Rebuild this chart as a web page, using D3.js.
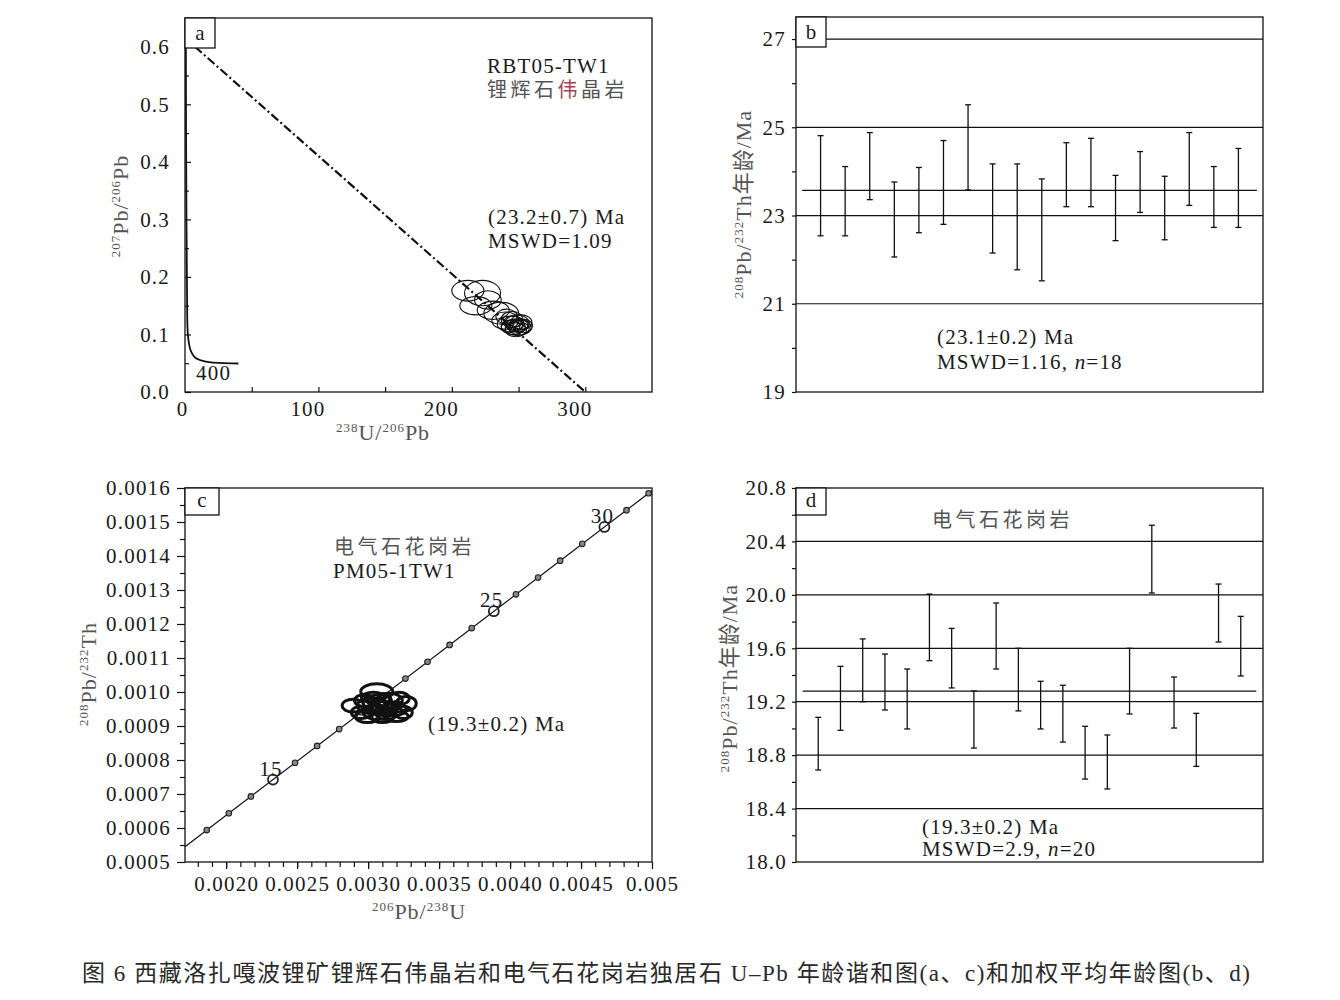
<!DOCTYPE html>
<html>
<head>
<meta charset="utf-8">
<script src="https://cdn.jsdelivr.net/npm/d3@7"></script>
<style>
body { margin: 0; background: #fff; }
text { font-family: "Liberation Serif", "Times New Roman", "Noto Sans CJK SC", serif; fill: #1a1a1a; }
.tick text { font-size: 21px; letter-spacing: 1.2px; }
.note { font-size: 21px; letter-spacing: 1.2px; }
.cjk { font-size: 20px; letter-spacing: 3.5px; fill: #555; }
.title { fill: #555; letter-spacing: 1px; }
</style>
</head>
<body>
<svg></svg>
<script>
// ---------- data, panel a (Tera-Wasserburg) ----------
var concA_x = [0.6, 0.8, 1.1, 1.5, 1.9, 2.6, 3.8, 5.5, 8, 12, 18, 26, 40];
var concA_y = [0.65, 0.45, 0.3, 0.18, 0.11, 0.09, 0.075, 0.066, 0.059, 0.055, 0.052, 0.0505, 0.0495];
var discA_x = [7.5, 300];
var discA_y = [0.6, 0];
var ellA_x  = [212, 223, 218, 231, 237, 240, 244, 246, 249, 251, 248, 252, 245, 250, 253, 247, 241, 227, 249, 246, 252, 244];
var ellA_y  = [0.176, 0.172, 0.150, 0.142, 0.137, 0.124, 0.118, 0.113, 0.119, 0.112, 0.108, 0.121, 0.126, 0.116, 0.115, 0.117, 0.131, 0.160, 0.110, 0.122, 0.118, 0.114];
var ellA_rx = [12, 13.5, 12, 12, 13, 10, 10, 9, 9, 8.5, 8, 8, 8, 7, 7.5, 6, 8, 10, 9, 7, 6, 7];
var ellA_ry = [0.018, 0.022, 0.016, 0.016, 0.019, 0.015, 0.014, 0.013, 0.015, 0.013, 0.012, 0.013, 0.014, 0.011, 0.012, 0.010, 0.013, 0.016, 0.012, 0.010, 0.009, 0.010];
var xTicksA = [0, 100, 200, 300];
var yTicksA = [0, 0.1, 0.2, 0.3, 0.4, 0.5, 0.6];

// ---------- data, panel b (weighted mean, pegmatite) ----------
var ageB_hi = [24.81, 24.11, 24.88, 23.76, 24.09, 24.70, 25.51, 24.17, 24.17, 23.83, 24.65, 24.75, 23.91, 24.45, 23.89, 24.88, 24.11, 24.52];
var ageB_lo = [22.54, 22.54, 23.36, 22.06, 22.61, 22.80, 23.58, 22.15, 21.77, 21.52, 23.20, 23.20, 22.43, 23.07, 22.45, 23.23, 22.73, 22.73];
var meanB = 23.57;
var gridB = [21, 23, 25, 27];
var yTicksB = [19, 21, 23, 25, 27];

// ---------- data, panel c (208Pb/232Th vs 206Pb/238U) ----------
var concC_age = [12, 13, 14, 15, 16, 17, 18, 19, 20, 21, 22, 23, 24, 25, 26, 27, 28, 29, 30, 31, 32];
var concC_x = [0.0018632, 0.0020186, 0.0021741, 0.0023296, 0.0024851, 0.0026406, 0.0027962, 0.0029517, 0.0031073, 0.0032629, 0.0034186,
               0.0035743, 0.0037299, 0.0038856, 0.0040414, 0.0041972, 0.0043529, 0.0045087, 0.0046646, 0.0048205, 0.0049763];
var concC_y = [0.0005939, 0.0006434, 0.0006929, 0.0007424, 0.0007919, 0.0008414, 0.0008909, 0.0009405, 0.0009900, 0.0010395, 0.0010890,
               0.0011386, 0.0011881, 0.0012376, 0.0012872, 0.0013367, 0.0013863, 0.0014358, 0.0014854, 0.0015349, 0.0015845];
var concC_labelled = [15, 25, 30];
var lineC_x = [0.00171, 0.0050];
var lineC_y = [0.000545, 0.001592];
var ellC_x  = [0.003061, 0.002894, 0.003198, 0.003269, 0.002952, 0.003022, 0.003114, 0.003065, 0.003150, 0.002995, 0.003185, 0.003080, 0.002974, 0.003220, 0.003101, 0.003037, 0.003248, 0.003128,
               0.003050, 0.003100, 0.003150, 0.003000, 0.003200, 0.003080, 0.003130, 0.003040];
var ellC_y  = [0.001002, 0.000960, 0.000928, 0.000966, 0.000940, 0.000960, 0.000952, 0.000940, 0.000975, 0.000928, 0.000949, 0.000975, 0.000975, 0.000981, 0.000925, 0.000984, 0.000940, 0.000934,
               0.000955, 0.000962, 0.000955, 0.000948, 0.000962, 0.000945, 0.000942, 0.000968];
var ellC_rx = [0.000113, 0.000077, 0.000085, 0.000070, 0.000070, 0.000099, 0.000091, 0.000099, 0.000091, 0.000084, 0.000084, 0.000084, 0.000070, 0.000070, 0.000077, 0.000084, 0.000063, 0.000070,
               0.000045, 0.000040, 0.000040, 0.000035, 0.000035, 0.000030, 0.000030, 0.000030];
var ellC_ry = [0.000022, 0.000019, 0.000015, 0.000021, 0.000018, 0.000023, 0.000021, 0.000021, 0.000021, 0.000018, 0.000018, 0.000018, 0.000018, 0.000018, 0.000015, 0.000015, 0.000018, 0.000015,
               0.000012, 0.000011, 0.000011, 0.000010, 0.000010, 0.000009, 0.000009, 0.000009];
var xTicksC = [0.0020, 0.0025, 0.0030, 0.0035, 0.0040, 0.0045, 0.0050];
var xLabelsC = ["0.0020", "0.0025", "0.0030", "0.0035", "0.0040", "0.0045", "0.005"];
var yTicksC = [0.0005, 0.0006, 0.0007, 0.0008, 0.0009, 0.0010, 0.0011, 0.0012, 0.0013, 0.0014, 0.0015, 0.0016];

// ---------- data, panel d (weighted mean, granite) ----------
var ageD_hi = [19.083, 19.465, 19.670, 19.557, 19.445, 20.006, 19.749, 19.280, 19.939, 19.600, 19.353, 19.323, 19.016, 18.951, 19.600, 20.521, 19.385, 19.113, 20.081, 19.839];
var ageD_lo = [18.689, 18.986, 19.200, 19.138, 18.996, 19.507, 19.303, 18.853, 19.445, 19.131, 18.996, 18.898, 18.621, 18.547, 19.108, 20.014, 19.003, 18.716, 19.647, 19.393];
var meanD = 19.28;
var gridD = [18.4, 18.8, 19.2, 19.6, 20.0, 20.4];
var yTicksD = [18.0, 18.4, 18.8, 19.2, 19.6, 20.0, 20.4, 20.8];

var caption = "图 6  西藏洛扎嘎波锂矿锂辉石伟晶岩和电气石花岗岩独居石 U–Pb 年龄谐和图(a、c)和加权平均年龄图(b、d)";

// ---------- drawing ----------
var svg = d3.select("svg").attr("width", 1340).attr("height", 1000);
var PW = 467, PH = 374;

function panel(x0, y0) {
    return svg.append("g").attr("transform", "translate(" + x0 + "," + y0 + ")");
}

function frame(g, h) {
    g.append("rect").attr("width", PW).attr("height", h)
        .attr("fill", "none").attr("stroke", "#111").attr("stroke-width", 1.3);
}

function letterBox(g, letter, bw, bh) {
    g.append("rect").attr("width", bw).attr("height", bh)
        .attr("fill", "#fff").attr("stroke", "#111").attr("stroke-width", 1.3);
    g.append("text").attr("x", bw / 2).attr("y", bh - 8).attr("text-anchor", "middle")
        .style("font-size", "21px").text(letter);
}

// text with superscripts; parts = [[string, isSup], ...]
function supText(t, parts, big, small) {
    var shift = 0;
    parts.forEach(function (p) {
        var want = p[1] ? -8 : 0;
        t.append("tspan").attr("dy", want - shift)
            .style("font-size", (p[1] ? small : big) + "px").text(p[0]);
        shift = want;
    });
}

function styleAxis(sel) {
    sel.select(".domain").remove();
    sel.selectAll(".tick line").attr("stroke", "#111").attr("stroke-width", 1.2);
}

function errorBars(g, x, y, hi, lo) {
    var rows = hi.map(function (d, i) { return { i: i + 1, hi: d, lo: lo[i] }; });
    var bar = g.append("g").selectAll("g").data(rows).enter().append("g")
        .attr("stroke", "#111").attr("stroke-width", 1.3);
    bar.append("line").attr("x1", function (d) { return x(d.i); }).attr("x2", function (d) { return x(d.i); })
        .attr("y1", function (d) { return y(d.hi); }).attr("y2", function (d) { return y(d.lo); });
    bar.append("line").attr("x1", function (d) { return x(d.i) - 3; }).attr("x2", function (d) { return x(d.i) + 3; })
        .attr("y1", function (d) { return y(d.hi); }).attr("y2", function (d) { return y(d.hi); });
    bar.append("line").attr("x1", function (d) { return x(d.i) - 3; }).attr("x2", function (d) { return x(d.i) + 3; })
        .attr("y1", function (d) { return y(d.lo); }).attr("y2", function (d) { return y(d.lo); });
}

function ellipses(g, x, y, cx, cy, rx, ry, sw) {
    var rows = cx.map(function (d, i) { return { cx: d, cy: cy[i], rx: rx[i], ry: ry[i] }; });
    g.append("g").selectAll("ellipse").data(rows).enter().append("ellipse")
        .attr("cx", function (d) { return x(d.cx); })
        .attr("cy", function (d) { return y(d.cy); })
        .attr("rx", function (d) { return x(d.cx + d.rx) - x(d.cx); })
        .attr("ry", function (d) { return y(d.cy) - y(d.cy + d.ry); })
        .attr("fill", "none").attr("stroke", "#111").attr("stroke-width", sw);
}

// ===== panel a =====
var ga = panel(185, 18);
var xa = d3.scaleLinear().domain([0, 350]).range([0, PW]);
var ya = d3.scaleLinear().domain([0, 0.65]).range([PH, 0]);

ga.append("g").call(d3.axisLeft(ya).tickValues(d3.range(0.05, 0.65, 0.1)).tickSize(-4).tickFormat("")).call(styleAxis);
ga.append("g").call(d3.axisLeft(ya).tickValues(yTicksA).tickSize(-6).tickPadding(15).tickFormat(d3.format(".1f"))).call(styleAxis);
ga.append("g").attr("transform", "translate(0," + PH + ")")
    .call(d3.axisBottom(xa).tickValues(d3.range(50, 350, 50)).tickSize(-5).tickFormat("")).call(styleAxis);
ga.append("g").attr("transform", "translate(0," + PH + ")")
    .call(d3.axisBottom(xa).tickValues(xTicksA).tickSize(0).tickPadding(9)).call(styleAxis)
    .selectAll("text").attr("dx", function (d) { return d === 0 ? -3 : -11; });

ga.append("path")
    .datum(concA_x.map(function (d, i) { return [d, concA_y[i]]; }))
    .attr("d", d3.line().x(function (d) { return xa(d[0]); }).y(function (d) { return ya(d[1]); }).curve(d3.curveCatmullRom))
    .attr("fill", "none").attr("stroke", "#111").attr("stroke-width", 1.8);
ga.append("line")
    .attr("x1", xa(discA_x[0])).attr("y1", ya(discA_y[0]))
    .attr("x2", xa(discA_x[1])).attr("y2", ya(discA_y[1]))
    .attr("stroke", "#111").attr("stroke-width", 2.2).attr("stroke-dasharray", "9,3,2,3");
ellipses(ga, xa, ya, ellA_x, ellA_y, ellA_rx, ellA_ry, 1.1);
frame(ga, PH);
letterBox(ga, "a", 30, 30);
ga.append("text").attr("class", "note").attr("x", 11).attr("y", 362).text("400");
ga.append("text").attr("class", "note").attr("x", 302).attr("y", 55).text("RBT05-TW1");
ga.append("text").attr("class", "cjk").attr("x", 302).attr("y", 79)
    .call(function (t) {
        t.append("tspan").text("锂辉石");
        t.append("tspan").style("fill", "#9a4a4a").text("伟");
        t.append("tspan").text("晶岩");
    });
ga.append("text").attr("class", "note").attr("x", 303).attr("y", 206).text("(23.2±0.7) Ma");
ga.append("text").attr("class", "note").attr("x", 303).attr("y", 230).text("MSWD=1.09");

svg.append("text").attr("class", "title").attr("transform", "translate(128,206) rotate(-90)")
    .attr("text-anchor", "middle")
    .call(supText, [["207", true], ["Pb/", false], ["206", true], ["Pb", false]], 22, 13);
svg.append("text").attr("class", "title").attr("x", 383).attr("y", 440).attr("text-anchor", "middle")
    .call(supText, [["238", true], ["U/", false], ["206", true], ["Pb", false]], 22, 13);

// ===== panel b =====
var gb = panel(796, 17);
var PHb = 375;
var xb = d3.scaleLinear().domain([0, 19]).range([0, PW]);
var yb = d3.scaleLinear().domain([19, 27.5]).range([PHb, 0]);

gb.append("g").call(d3.axisLeft(yb).tickValues(d3.range(20, 27, 2)).tickSize(4).tickFormat("")).call(styleAxis);
gb.append("g").call(d3.axisLeft(yb).tickValues(yTicksB).tickSize(4).tickPadding(6)).call(styleAxis);
gb.append("g").selectAll("line").data(gridB).enter().append("line")
    .attr("x1", 0).attr("x2", PW).attr("y1", yb).attr("y2", yb)
    .attr("stroke", "#111").attr("stroke-width", 1.2);
gb.append("line").attr("x1", xb(0.25)).attr("x2", xb(18.75)).attr("y1", yb(meanB)).attr("y2", yb(meanB))
    .attr("stroke", "#111").attr("stroke-width", 1.3);
errorBars(gb, xb, yb, ageB_hi, ageB_lo);
frame(gb, PHb);
letterBox(gb, "b", 30, 30);
gb.append("text").attr("class", "note").attr("x", 141).attr("y", 327).text("(23.1±0.2) Ma");
gb.append("text").attr("class", "note").attr("x", 141).attr("y", 352)
    .call(function (t) {
        t.append("tspan").text("MSWD=1.16, ");
        t.append("tspan").style("font-style", "italic").text("n");
        t.append("tspan").text("=18");
    });
svg.append("text").attr("class", "title").attr("transform", "translate(751,204) rotate(-90)")
    .attr("text-anchor", "middle")
    .call(supText, [["208", true], ["Pb/", false], ["232", true], ["Th年龄/Ma", false]], 22, 13);

// ===== panel c =====
var gc = panel(185, 488);
var xc = d3.scaleLinear().domain([0.00171, 0.005]).range([0, PW]);
var yc = d3.scaleLinear().domain([0.0005, 0.0016]).range([PH, 0]);

gc.append("g").call(d3.axisLeft(yc).tickValues(d3.range(0.00055, 0.0016, 0.0001)).tickSize(5).tickFormat("")).call(styleAxis);
gc.append("g").call(d3.axisLeft(yc).tickValues(yTicksC).tickSize(8).tickPadding(6).tickFormat(d3.format(".4f"))).call(styleAxis);
gc.append("g").attr("transform", "translate(0," + PH + ")")
    .call(d3.axisBottom(xc).tickValues(d3.range(0.0018, 0.00495, 0.0001)).tickSize(5).tickFormat("")).call(styleAxis);
gc.append("g").attr("transform", "translate(0," + PH + ")")
    .call(d3.axisBottom(xc).tickValues(xTicksC).tickSize(7).tickPadding(7)
        .tickFormat(function (d, i) { return xLabelsC[i]; })).call(styleAxis);

gc.append("line")
    .attr("x1", xc(lineC_x[0])).attr("y1", yc(lineC_y[0]))
    .attr("x2", xc(lineC_x[1])).attr("y2", yc(lineC_y[1]))
    .attr("stroke", "#111").attr("stroke-width", 1.2);
var marks = concC_age.map(function (a, i) { return { age: a, x: concC_x[i], y: concC_y[i], big: concC_labelled.indexOf(a) >= 0 }; });
gc.append("g").selectAll("circle").data(marks).enter().append("circle")
    .attr("cx", function (d) { return xc(d.x); })
    .attr("cy", function (d) { return yc(d.y); })
    .attr("r", function (d) { return d.big ? 5 : 2.8; })
    .attr("fill", function (d) { return d.big ? "none" : "#888"; })
    .attr("stroke", "#222").attr("stroke-width", function (d) { return d.big ? 1.8 : 1.1; });
ellipses(gc, xc, yc, ellC_x, ellC_y, ellC_rx, ellC_ry, 3);
gc.append("g").selectAll("text").data(marks.filter(function (d) { return d.big; })).enter().append("text")
    .attr("class", "note").attr("text-anchor", "middle")
    .attr("x", function (d) { return xc(d.x) - 2; })
    .attr("y", function (d) { return yc(d.y) - 4; })
    .text(function (d) { return d.age; });
frame(gc, PH);
letterBox(gc, "c", 34, 27);
gc.append("text").attr("class", "cjk").attr("x", 149).attr("y", 66).text("电气石花岗岩");
gc.append("text").attr("class", "note").attr("x", 148).attr("y", 90).text("PM05-1TW1");
gc.append("text").attr("class", "note").attr("x", 243).attr("y", 243).text("(19.3±0.2) Ma");

svg.append("text").attr("class", "title").attr("transform", "translate(96,674) rotate(-90)")
    .attr("text-anchor", "middle")
    .call(supText, [["208", true], ["Pb/", false], ["232", true], ["Th", false]], 22, 13);
svg.append("text").attr("class", "title").attr("x", 419).attr("y", 919).attr("text-anchor", "middle")
    .call(supText, [["206", true], ["Pb/", false], ["238", true], ["U", false]], 22, 13);

// ===== panel d =====
var gd = panel(796, 488);
var xd = d3.scaleLinear().domain([0, 21]).range([0, PW]);
var yd = d3.scaleLinear().domain([18.0, 20.8]).range([PH, 0]);

gd.append("g").call(d3.axisLeft(yd).tickValues(d3.range(18.2, 20.8, 0.4)).tickSize(4).tickFormat("")).call(styleAxis);
gd.append("g").call(d3.axisLeft(yd).tickValues(yTicksD).tickSize(4).tickPadding(5).tickFormat(d3.format(".1f"))).call(styleAxis);
gd.append("g").selectAll("line").data(gridD).enter().append("line")
    .attr("x1", 0).attr("x2", PW).attr("y1", yd).attr("y2", yd)
    .attr("stroke", "#111").attr("stroke-width", 1.2);
gd.append("line").attr("x1", xd(0.3)).attr("x2", xd(20.7)).attr("y1", yd(meanD)).attr("y2", yd(meanD))
    .attr("stroke", "#111").attr("stroke-width", 1.3);
errorBars(gd, xd, yd, ageD_hi, ageD_lo);
frame(gd, PH);
letterBox(gd, "d", 30, 27);
gd.append("text").attr("class", "cjk").attr("x", 136).attr("y", 39).text("电气石花岗岩");
gd.append("text").attr("class", "note").attr("x", 126).attr("y", 346).text("(19.3±0.2) Ma");
gd.append("text").attr("class", "note").attr("x", 126).attr("y", 368)
    .call(function (t) {
        t.append("tspan").text("MSWD=2.9, ");
        t.append("tspan").style("font-style", "italic").text("n");
        t.append("tspan").text("=20");
    });
svg.append("text").attr("class", "title").attr("transform", "translate(737,678) rotate(-90)")
    .attr("text-anchor", "middle")
    .call(supText, [["208", true], ["Pb/", false], ["232", true], ["Th年龄/Ma", false]], 22, 13);

// ===== caption =====
svg.append("text").attr("x", 82).attr("y", 981)
    .attr("textLength", 1168).attr("lengthAdjust", "spacing")
    .style("font-size", "23px").style("fill", "#2a2a2a")
    .text(caption);
</script>
</body>
</html>
